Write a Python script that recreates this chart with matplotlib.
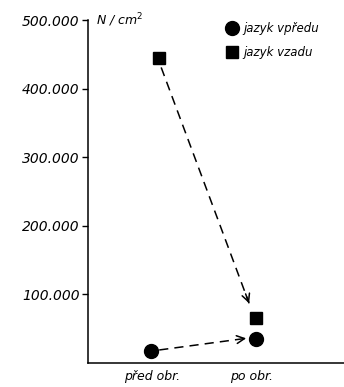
import numpy as np
import matplotlib.pyplot as plt

# categories on x axis
categories = ["před obr.", "po obr."]
# jazyk vpředu (circles), jazyk vzadu (squares), in N/cm^2
front_x = [0.99, 2.05]
front_y = [18000, 35000]
back_x = [1.07, 2.05]
back_y = [445000, 65000]
yticks = [100000, 200000, 300000, 400000, 500000]
ytick_labels = ["100.000", "200.000", "300.000", "400.000", "500.000"]


def dashed_arrow(ax, x0, y0, x1, y1):
    # dashed shaft + solid head
    ax.plot([x0, x1], [y0, y1], color='black', lw=1.1, dashes=(6, 4))
    dx = (x1 - x0) * 0.04
    dy = (y1 - y0) * 0.04
    ax.annotate("", xy=(x1, y1), xytext=(x1 - dx, y1 - dy),
                arrowprops=dict(arrowstyle='->', color='black', lw=1.1, mutation_scale=14,
                                shrinkA=0, shrinkB=0))


fig = plt.figure(figsize=(3.44, 3.87), dpi=100)
ax = fig.add_axes([0.256, 0.062, 0.744, 0.886])

#-- markers
ax.plot(front_x, front_y, 'o', color='black', markersize=10, label="jazyk vpředu")
ax.plot(back_x, back_y, 's', color='black', markersize=9, label="jazyk vzadu")

#-- dashed arrows between before / after
dashed_arrow(ax, back_x[0] + 0.02, back_y[0] - 14000, back_x[1] - 0.07, back_y[1] + 22000)
dashed_arrow(ax, front_x[0] + 0.08, front_y[0] + 1000, front_x[1] - 0.1, front_y[1] + 1000)

ax.set_xlim(0.35, 2.94)
ax.set_ylim(0, 500000)
ax.set_xticks([1.0, 2.0])
ax.set_xticklabels(categories, style='italic', fontsize=9)
ax.tick_params(axis='x', length=0, pad=5)
ax.set_yticks(yticks)
ax.set_yticklabels(ytick_labels, style='italic', fontsize=10)
ax.tick_params(axis='y', length=4, width=1, pad=2)

ax.spines['top'].set_visible(False)
ax.spines['right'].set_visible(False)
ax.spines['left'].set_linewidth(1.1)
ax.spines['bottom'].set_linewidth(1.1)

ax.text(0.03, 1.0, "N / cm$^2$", transform=ax.transAxes, style='italic', fontsize=9, va='center')

ax.legend(loc='upper left', frameon=False, prop={'style': 'italic', 'size': 8.5},
          handletextpad=0.2, borderaxespad=0.0, borderpad=0.2, bbox_to_anchor=(0.52, 1.0),
          labelspacing=0.9, handlelength=1.5)

fig.savefig("out.png", dpi=100)
